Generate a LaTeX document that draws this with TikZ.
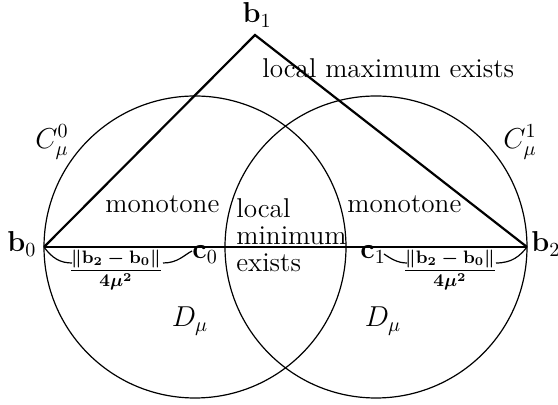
\documentclass[tikz,border=0pt]{standalone}
\usepackage{amsmath}
\newcommand{\normfrac}{{\boldmath$\dfrac{\Vert\mathbf{b}_2-\mathbf{b}_0\Vert}{4\mu^2}$}}
\begin{document}
\begin{tikzpicture}[x=0.5pt,y=-0.5pt,
  txt/.style={inner sep=0pt,font=\fontsize{13.6}{13.6}\selectfont},
  lbl/.style={inner sep=0pt,font=\fontsize{14}{14}\selectfont},
  frc/.style={inner sep=0pt,font=\fontsize{9}{9}\selectfont},
  thickln/.style={line width=1.1pt},
  circ/.style={line width=0.6pt},
  brc/.style={line width=0.6pt}]
\useasboundingbox (0,0) rectangle (558,405);
% points
\coordinate (b0) at (44,247);
\coordinate (b1) at (255,35);
\coordinate (b2) at (527,247);
\coordinate (c0) at (195,247);
\coordinate (c1) at (376,247);
% circles
\draw[circ] (c0) circle[radius=75.5pt];
\draw[circ] (c1) circle[radius=75.5pt];
% triangle and base
\draw[thickln,line join=miter] (b0) -- (b1) -- (b2);
\draw[line width=0.75pt] (b0) -- (b2);
% labels of points
\node[lbl,anchor=base] (lb1) at (257,23) {$\mathbf{b}_1$};
\node[lbl,anchor=base west] (lb0) at (7,252) {$\mathbf{b}_0$};
\node[lbl,anchor=base west] (lb2) at (531,252) {$\mathbf{b}_2$};
\node[lbl,anchor=base west] (lc0) at (192,259) {$\mathbf{c}_0$};
\node[lbl,anchor=base west] (lc1) at (360,259) {$\mathbf{c}_1$};
% circle labels
\node[lbl] (C0) at (52,142) {$C_\mu^0$};
\node[lbl] (C1) at (520,142) {$C_\mu^1$};
\node[lbl] (D0) at (190,321) {$D_\mu$};
\node[lbl] (D1) at (383,321) {$D_\mu$};
% region texts
\node[txt,anchor=base west] (lmax) at (262,78) {local maximum exists};
\node[txt,anchor=base west] (mono0) at (105,213) {monotone};
\node[txt,anchor=base west] (mono1) at (347,213) {monotone};
\node[txt,anchor=base west,align=left] (lmin) at (236,272) {local\\minimum\\exists};
% fractions (brace labels)
\node[frc] (f0) at (116,270) {\normfrac};
\node[frc] (f1) at (450,270) {\normfrac};
% braces
\coordinate (l0) at (72,263);
\coordinate (l1) at (163,263);
\coordinate (l2) at (192,251);
\draw[brc] (b0) .. controls (52,258) and (60,263) .. (l0);
\draw[brc] (l1) .. controls (178,263) and (184,255) .. (l2);
\coordinate (r0) at (384,254);
\coordinate (r1) at (407,263);
\coordinate (r2) at (496,263);
\draw[brc] (r0) .. controls (390,258) and (397,263) .. (r1);
\draw[brc] (r2) .. controls (512,263) and (520,256) .. (b2);
\end{tikzpicture}
\end{document}
